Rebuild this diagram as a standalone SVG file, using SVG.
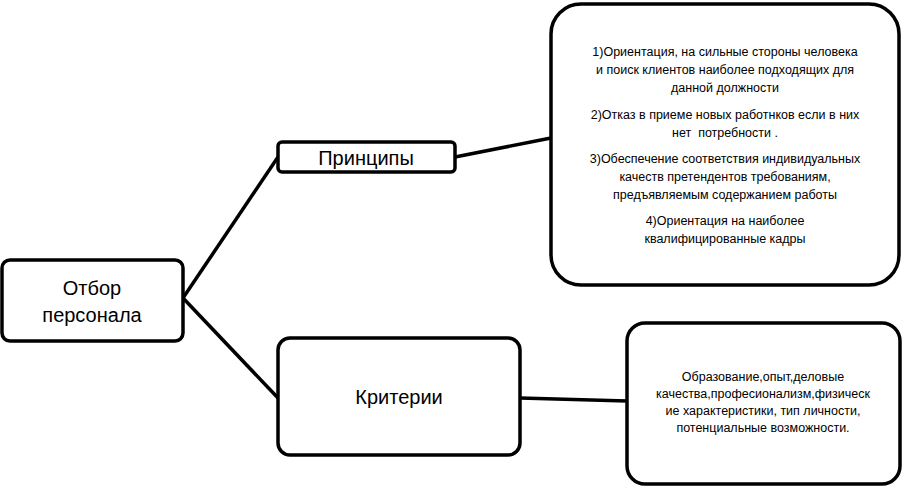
<svg xmlns="http://www.w3.org/2000/svg" width="905" height="488" viewBox="0 0 905 488">
<style>
.b{fill:#fff;stroke:#000;stroke-width:3.5}
.c{stroke:#000;stroke-width:3.5;fill:none}
text{font-family:"Liberation Sans",Arial,sans-serif;text-anchor:middle;fill:#000}
.l{font-size:20px}
.s{font-size:12.5px}
</style>
<rect width="905" height="488" fill="#fff"/>
<g id="connectors">
<line class="c" x1="183" y1="298" x2="278" y2="157"/>
<line class="c" x1="183" y1="298" x2="278" y2="398"/>
<line class="c" x1="455" y1="157" x2="551" y2="138"/>
<line class="c" x1="520" y1="398" x2="627" y2="401"/>
</g>
<g id="otbor">
<rect class="b" x="2" y="260" width="181" height="81" rx="8"/>
<text class="l" x="92" y="295">Отбор</text>
<text class="l" x="92" y="322">персонала</text>
</g>
<g id="principy">
<rect class="b" x="278" y="142" width="177" height="30" rx="4"/>
<text class="l" x="366" y="165">Принципы</text>
</g>
<g id="kriterii">
<rect class="b" x="278" y="338" width="242" height="117" rx="12"/>
<text class="l" x="399" y="404">Критерии</text>
</g>
<g id="principy-text">
<rect class="b" x="551" y="4" width="348" height="281" rx="30"/>
<text class="s" x="725" y="56">1)Ориентация, на сильные стороны человека</text>
<text class="s" x="725" y="74">и поиск клиентов наиболее подходящих для</text>
<text class="s" x="725" y="92">данной должности</text>
<text class="s" x="725" y="119">2)Отказ в приеме новых работнков если в них</text>
<text class="s" x="725" y="137" xml:space="preserve">нет  потребности .</text>
<text class="s" x="725" y="163">3)Обеспечение соответствия индивидуальных</text>
<text class="s" x="725" y="181">качеств претендентов требованиям,</text>
<text class="s" x="725" y="199">предъявляемым содержанием работы</text>
<text class="s" x="725" y="225">4)Ориентация на наиболее</text>
<text class="s" x="725" y="243">квалифицированные кадры</text>
</g>
<g id="kriterii-text">
<rect class="b" x="627" y="323" width="273" height="161" rx="18"/>
<text class="s" x="763" y="381">Образование,опыт,деловые</text>
<text class="s" x="763" y="398">качества,професионализм,физическ</text>
<text class="s" x="763" y="415">ие характеристики, тип личности,</text>
<text class="s" x="763" y="432">потенциальные возможности.</text>
</g>
</svg>
